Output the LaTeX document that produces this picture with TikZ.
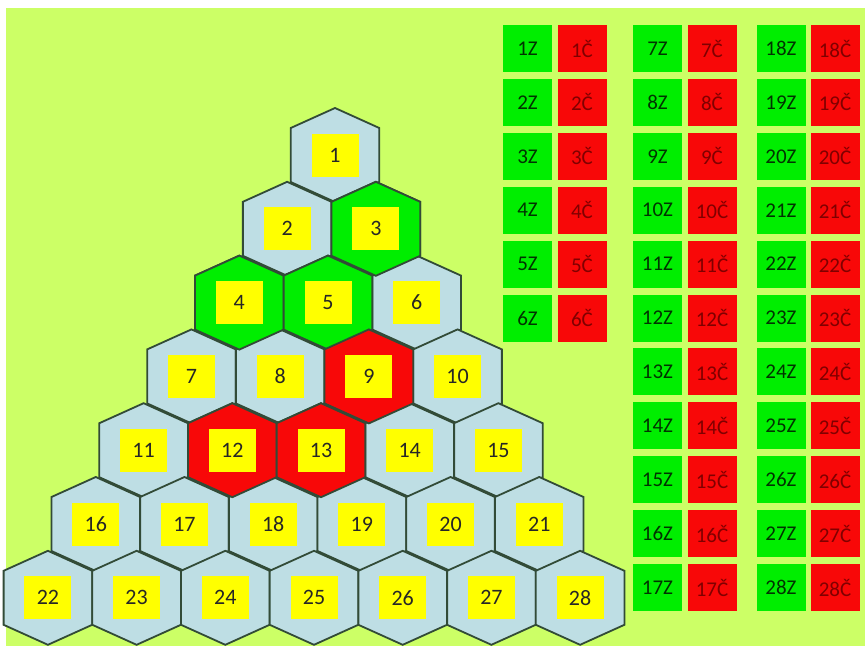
\documentclass[tikz,border=0pt]{standalone}
\usepackage{fontspec}
\setmainfont{Carlito}
\usepackage{tikz}
\usepackage{xcolor}

\definecolor{bglime}{RGB}{204,255,102}
\definecolor{hexblue}{RGB}{190,222,228}
\definecolor{hexedge}{RGB}{50,75,55}
\definecolor{hexgreen}{RGB}{0,238,0}
\definecolor{hexred}{RGB}{248,8,8}
\definecolor{boxyellow}{RGB}{255,255,0}

\tikzset{
  hexa/.pic={\path[pic actions] (0,-47) -- (44.3,-27) -- (44.3,27) -- (0,47) -- (-44.3,27) -- (-44.3,-27) -- cycle;},
  hexline/.style={draw=hexedge, line width=1.8pt, line join=miter},
  numbox/.style={fill=boxyellow, minimum width=47pt, minimum height=43pt, inner sep=0pt,
    text=black!85, font=\fontsize{22}{22}\selectfont},
  zbox/.style={fill=hexgreen, minimum width=49pt, minimum height=47pt, inner sep=0pt,
    text=green!20!black, font=\fontsize{21}{21}\selectfont},
  cbox/.style={fill=hexred, minimum width=49pt, minimum height=47pt, inner sep=0pt,
    text=red!50!black, font=\fontsize{21}{21}\selectfont}
}

\begin{document}
\begin{tikzpicture}[x=1pt, y=-1pt]
  \useasboundingbox (0,0) rectangle (865,646);
  \fill[white] (0,0) rectangle (865,646);
  \fill[bglime] (6,8) rectangle (865,646);

  \foreach \r in {1,...,7}{
    \foreach \k in {1,...,\r}{
      \pgfmathtruncatemacro{\n}{\r*(\r-1)/2+\k}
      \pgfmathsetmacro{\cx}{335-3.5*(\r-1)+(\k-1-(\r-1)/2)*88.7}
      \pgfmathsetmacro{\cy}{155+73.8*(\r-1)}
      \coordinate (c\n) at (\cx,\cy);
      \pic[hexline, fill=hexblue] at (c\n) {hexa};
    }
  }
  \foreach \n/\col in {3/hexgreen, 4/hexgreen, 5/hexgreen, 9/hexred, 12/hexred, 13/hexred}
    \pic[hexline, fill=\col] at (c\n) {hexa};
  \foreach \n in {1,...,28}
    \node[numbox] (n\n) at (c\n) {\n};

  \foreach \i in {1,...,6}{
    \node[zbox] (z\i) at (527.5,{48.5+53.9*(\i-1)}) {\i Z};
    \node[cbox] (cc\i) at (582,{48.5+53.9*(\i-1)}) {\i Č};
  }
  \foreach \i in {7,...,17}{
    \node[zbox] (z\i) at (657.5,{48.5+53.9*(\i-7)}) {\i Z};
    \node[cbox] (cc\i) at (712,{48.5+53.9*(\i-7)}) {\i Č};
  }
  \foreach \i in {18,...,28}{
    \node[zbox] (z\i) at (781,{48.5+53.9*(\i-18)}) {\i Z};
    \node[cbox] (cc\i) at (835,{48.5+53.9*(\i-18)}) {\i Č};
  }
\end{tikzpicture}
\end{document}
